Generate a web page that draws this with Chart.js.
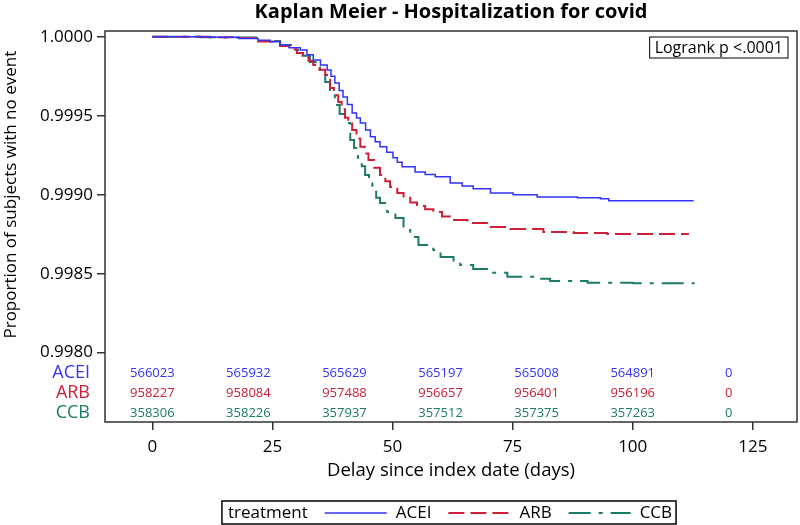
<!DOCTYPE html>
<html>
<head>
<meta charset="utf-8">
<script src="https://cdn.jsdelivr.net/npm/chart.js@4/dist/chart.umd.min.js"></script>
<style>
  html, body { margin: 0; padding: 0; background: #fff; }
  #wrap { width: 800px; height: 525px; }
</style>
</head>
<body>
<div id="wrap"><canvas id="kmChart" width="800" height="525"></canvas></div>
<script>
const groups = ["ACEI", "ARB", "CCB"];
const groupColors = ["#3333fa", "#cc2038", "#1c7a68"];

const aceiDays = [0, 12, 18, 22, 24.5, 26.6, 28.5, 30.8, 32.2, 33.5, 35, 36.4, 37.2, 38, 38.9, 39.7, 40.6, 41.6, 42.5, 43.3, 44.4, 45.4, 46.4, 47.4, 48.8, 50.1, 51, 52, 54.7, 56.8, 58.9, 62, 64.5, 66.8, 70.4, 75.1, 80.1, 88.5, 93.3, 95, 112.7];
const aceiSurv = [1.0, 0.999997, 0.999988, 0.999978, 0.999968, 0.999947, 0.99993, 0.999916, 0.999885, 0.999853, 0.99982, 0.999789, 0.99975, 0.999707, 0.99966, 0.999618, 0.99957, 0.999517, 0.999485, 0.999454, 0.99941, 0.999366, 0.999335, 0.999303, 0.999268, 0.999233, 0.999205, 0.999176, 0.999144, 0.999128, 0.999113, 0.999074, 0.999055, 0.999037, 0.999011, 0.998999, 0.998986, 0.99898, 0.998974, 0.998962, 0.998962];

const arbDays = [0, 12, 17, 22, 26.6, 28.5, 30.1, 31.4, 32.5, 33.5, 34.8, 36, 37, 37.8, 38.7, 39.4, 40.1, 40.8, 41.6, 42.5, 43.3, 44.2, 45, 46.2, 47.4, 48.5, 49.5, 51, 52.3, 53.7, 55.1, 56.8, 58.5, 60.3, 62, 65.6, 69.7, 74.5, 81.4, 87.7, 94.7, 111.7];
const arbSurv = [1.0, 0.999997, 0.999992, 0.99997, 0.999941, 0.99992, 0.999897, 0.999872, 0.999848, 0.999821, 0.99979, 0.999758, 0.999675, 0.99963, 0.999587, 0.99954, 0.999487, 0.99945, 0.99941, 0.999355, 0.999303, 0.99926, 0.99922, 0.99917, 0.999125, 0.999085, 0.999049, 0.99901, 0.99898, 0.99895, 0.998928, 0.998908, 0.99889, 0.998862, 0.99884, 0.998821, 0.998795, 0.998783, 0.998764, 0.998757, 0.998751, 0.998751];

const ccbDays = [0, 10, 15, 22, 26.6, 29.3, 31, 32.8, 34, 34.9, 36, 37, 38, 39, 40.1, 41.2, 42, 42.8, 43.6, 44.3, 45.1, 45.8, 46.6, 47.4, 48.9, 50.6, 52.3, 53.7, 55.4, 58.5, 60, 62.7, 64.1, 66.8, 69.7, 73.9, 79.3, 82.8, 90.6, 100.1, 112.7];
const ccbSurv = [1.0, 0.999997, 0.999995, 0.999973, 0.999947, 0.999916, 0.99988, 0.99984, 0.999805, 0.99977, 0.999713, 0.99965, 0.999568, 0.99951, 0.999454, 0.999346, 0.999296, 0.999233, 0.99918, 0.999125, 0.99907, 0.999018, 0.99898, 0.998947, 0.99889, 0.998853, 0.998777, 0.998732, 0.998682, 0.99865, 0.998606, 0.998574, 0.998555, 0.99853, 0.998505, 0.99848, 0.998467, 0.998454, 0.998442, 0.998439, 0.998435];

// numbers at risk
const riskDays = [0, 20, 40, 60, 80, 100, 120];
const aceiRisk = [566023, 565932, 565629, 565197, 565008, 564891, 0];
const arbRisk = [958227, 958084, 957488, 956657, 956401, 956196, 0];
const ccbRisk = [358306, 358226, 357937, 357512, 357375, 357263, 0];

const xTicks = [0, 25, 50, 75, 100, 125];
const yTicks = [0.998, 0.9985, 0.999, 0.9995, 1.0];

const FONT = "'Open Sans', 'DejaVu Sans', sans-serif";

function toPoints(days, surv) {
    return days.map((d, i) => ({ x: d, y: surv[i] }));
}

const dashes = [[], [16, 6], [22, 8, 4, 8]];
const widths = [1.5, 2, 2];
const allDays = [aceiDays, arbDays, ccbDays];
const allSurv = [aceiSurv, arbSurv, ccbSurv];
const allRisk = [aceiRisk, arbRisk, ccbRisk];

const datasets = groups.map((g, i) => ({
    label: g,
    data: toPoints(allDays[i], allSurv[i]),
    borderColor: groupColors[i],
    borderWidth: widths[i],
    borderDash: dashes[i],
    stepped: true,
    pointRadius: 0,
    fill: false
}));

const kmExtras = {
    id: "kmExtras",
    afterDraw(chart) {
        const ctx = chart.ctx;
        const area = chart.chartArea;
        const xs = chart.scales.x;
        const ys = chart.scales.y;
        const midX = (area.left + area.right) / 2;
        ctx.save();

        // plot frame
        ctx.strokeStyle = "#333";
        ctx.lineWidth = 1.5;
        ctx.strokeRect(area.left, area.top, area.right - area.left, area.bottom - area.top);

        // title
        ctx.fillStyle = "#000";
        ctx.font = "bold 20px " + FONT;
        ctx.textAlign = "center";
        ctx.textBaseline = "middle";
        ctx.fillText("Kaplan Meier - Hospitalization for covid", midX, 12);

        // axis titles
        ctx.font = "18.5px " + FONT;
        ctx.fillText("Delay since index date (days)", midX, 471);
        const yMid = (ys.getPixelForValue(yTicks[0]) + ys.getPixelForValue(yTicks[yTicks.length - 1])) / 2;
        ctx.font = "17px " + FONT;
        ctx.save();
        ctx.translate(11, yMid);
        ctx.rotate(-Math.PI / 2);
        ctx.fillText("Proportion of subjects with no event", 0, 0);
        ctx.restore();

        // logrank box
        ctx.font = "16px " + FONT;
        const lr = "Logrank p <.0001";
        const lrW = ctx.measureText(lr).width + 10;
        ctx.lineWidth = 1;
        ctx.strokeStyle = "#000";
        ctx.strokeRect(area.right - 9 - lrW, area.top + 6, lrW, 21);
        ctx.textAlign = "left";
        ctx.fillText(lr, area.right - 9 - lrW + 5, area.top + 17);

        // at-risk table
        const rowY = [area.bottom - 49, area.bottom - 29, area.bottom - 9];
        groups.forEach((g, i) => {
            ctx.fillStyle = groupColors[i];
            ctx.font = "18px " + FONT;
            ctx.textAlign = "right";
            ctx.fillText(g, 90, rowY[i]);
            ctx.font = "13px " + FONT;
            ctx.textAlign = "center";
            riskDays.forEach((d, j) => {
                ctx.fillText(String(allRisk[i][j]), xs.getPixelForValue(d), rowY[i]);
            });
        });

        // legend
        ctx.font = "17px " + FONT;
        const lineLen = 62;
        const head = "treatment";
        let total = 6 + ctx.measureText(head).width;
        groups.forEach(g => { total += 17 + lineLen + 9 + ctx.measureText(g).width; });
        total += 4;
        const lx = midX - total / 2 - 2;
        const ly = 513;
        ctx.strokeStyle = "#000";
        ctx.lineWidth = 1.5;
        ctx.strokeRect(lx, 501, total, 23);
        ctx.fillStyle = "#000";
        ctx.textAlign = "left";
        let cx = lx + 6;
        ctx.fillText(head, cx, ly);
        cx += ctx.measureText(head).width;
        groups.forEach((g, i) => {
            cx += 17;
            ctx.beginPath();
            ctx.setLineDash(dashes[i]);
            ctx.strokeStyle = groupColors[i];
            ctx.lineWidth = widths[i];
            ctx.moveTo(cx, ly);
            ctx.lineTo(cx + lineLen, ly);
            ctx.stroke();
            ctx.setLineDash([]);
            cx += lineLen + 9;
            ctx.fillStyle = "#000";
            ctx.fillText(g, cx, ly);
            cx += ctx.measureText(g).width;
        });
        ctx.restore();
    }
};

const ctx = document.getElementById("kmChart").getContext("2d");
const chart = new Chart(ctx, {
    type: "line",
    data: { datasets: datasets },
    options: {
        responsive: false,
        animation: false,
        devicePixelRatio: 1,
        layout: { padding: { top: 31, right: 3, left: 0, bottom: 0 } },
        plugins: { legend: { display: false }, tooltip: { enabled: false } },
        scales: {
            x: {
                type: "linear",
                min: -9.85,
                max: 134.2,
                afterBuildTicks: s => { s.ticks = xTicks.map(v => ({ value: v })); },
                afterFit: s => { s.height = 103; },
                ticks: { color: "#000", font: { family: FONT, size: 17 }, padding: 7, maxRotation: 0 },
                grid: { drawOnChartArea: false, drawTicks: true, tickLength: 8, color: "#333", lineWidth: 1.5 },
                border: { display: false }
            },
            y: {
                type: "linear",
                min: 0.997561,
                max: 1.000036,
                afterBuildTicks: s => { s.ticks = yTicks.map(v => ({ value: v })); },
                afterFit: s => { s.width = 105; },
                ticks: { color: "#000", font: { family: FONT, size: 17 }, padding: 4, callback: v => v.toFixed(4) },
                grid: { drawOnChartArea: false, drawTicks: true, tickLength: 8, color: "#333", lineWidth: 1.5 },
                border: { display: false }
            }
        }
    },
    plugins: [kmExtras]
});
</script>
</body>
</html>
